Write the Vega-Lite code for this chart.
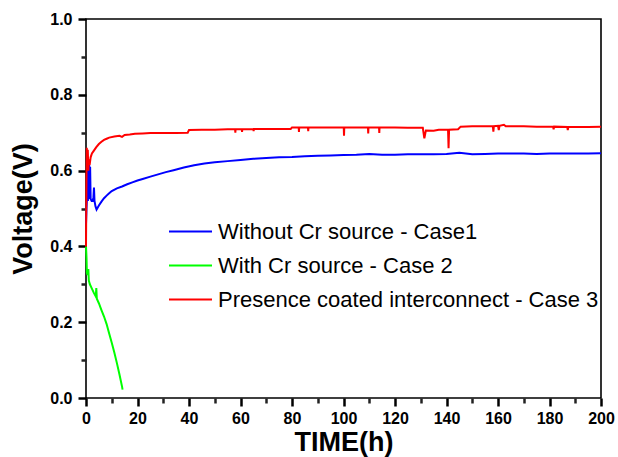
{
  "$schema": "https://vega.github.io/schema/vega-lite/v6.json",
  "width": 515,
  "height": 379,
  "autosize": {"type": "none"},
  "padding": {"left": 86, "top": 19, "right": 17, "bottom": 59},
  "background": "white",
  "config": {
    "view": {"stroke": "black", "strokeWidth": 1.6},
    "font": "Liberation Sans",
    "axis": {
      "grid": false, "domain": false, "zindex": 2,
      "labelFont": "Liberation Sans", "labelFontWeight": "bold", "labelFontSize": 16, "labelColor": "black", "labelFlush": false,
      "titleFont": "Liberation Sans", "titleFontWeight": "bold", "titleFontSize": 27, "titleColor": "black"
    }
  },
  "data": {"values": [
    {"s":"c1","t":0,"v":0.46},{"s":"c1","t":0.2,"v":0.5},{"s":"c1","t":0.4,"v":0.53},{"s":"c1","t":0.6,"v":0.62},{"s":"c1","t":0.75,"v":0.52},{"s":"c1","t":0.95,"v":0.6},{"s":"c1","t":1.1,"v":0.53},{"s":"c1","t":1.25,"v":0.615},{"s":"c1","t":1.4,"v":0.525},{"s":"c1","t":1.6,"v":0.61},{"s":"c1","t":1.8,"v":0.525},{"s":"c1","t":2.2,"v":0.52},{"s":"c1","t":2.6,"v":0.52},{"s":"c1","t":2.9,"v":0.53},{"s":"c1","t":3.1,"v":0.555},{"s":"c1","t":3.3,"v":0.52},{"s":"c1","t":3.7,"v":0.505},{"s":"c1","t":4.1,"v":0.497},{"s":"c1","t":5,"v":0.508},{"s":"c1","t":6,"v":0.518},{"s":"c1","t":7,"v":0.527},{"s":"c1","t":8,"v":0.534},{"s":"c1","t":9,"v":0.54},{"s":"c1","t":10,"v":0.546},{"s":"c1","t":12,"v":0.553},{"s":"c1","t":14,"v":0.558},{"s":"c1","t":16,"v":0.564},{"s":"c1","t":18,"v":0.569},{"s":"c1","t":20,"v":0.574},{"s":"c1","t":22,"v":0.578},{"s":"c1","t":25,"v":0.584},{"s":"c1","t":28,"v":0.59},{"s":"c1","t":31,"v":0.596},{"s":"c1","t":34,"v":0.601},{"s":"c1","t":38,"v":0.608},{"s":"c1","t":42,"v":0.614},{"s":"c1","t":46,"v":0.619},{"s":"c1","t":50,"v":0.622},{"s":"c1","t":55,"v":0.625},{"s":"c1","t":60,"v":0.628},{"s":"c1","t":65,"v":0.631},{"s":"c1","t":70,"v":0.633},{"s":"c1","t":75,"v":0.635},{"s":"c1","t":80,"v":0.636},{"s":"c1","t":85,"v":0.638},{"s":"c1","t":90,"v":0.639},{"s":"c1","t":95,"v":0.64},{"s":"c1","t":100,"v":0.641},{"s":"c1","t":105,"v":0.642},{"s":"c1","t":110,"v":0.644},{"s":"c1","t":115,"v":0.642},{"s":"c1","t":120,"v":0.642},{"s":"c1","t":125,"v":0.643},{"s":"c1","t":130,"v":0.643},{"s":"c1","t":135,"v":0.643},{"s":"c1","t":140,"v":0.644},{"s":"c1","t":145,"v":0.647},{"s":"c1","t":150,"v":0.643},{"s":"c1","t":155,"v":0.644},{"s":"c1","t":160,"v":0.645},{"s":"c1","t":165,"v":0.645},{"s":"c1","t":170,"v":0.645},{"s":"c1","t":175,"v":0.644},{"s":"c1","t":180,"v":0.645},{"s":"c1","t":185,"v":0.645},{"s":"c1","t":190,"v":0.645},{"s":"c1","t":195,"v":0.645},{"s":"c1","t":200,"v":0.646},
    {"s":"c2","t":0,"v":0.4},{"s":"c2","t":0.2,"v":0.37},{"s":"c2","t":0.35,"v":0.33},{"s":"c2","t":0.6,"v":0.325},{"s":"c2","t":0.9,"v":0.34},{"s":"c2","t":1.1,"v":0.31},{"s":"c2","t":1.5,"v":0.3},{"s":"c2","t":2.2,"v":0.29},{"s":"c2","t":3,"v":0.278},{"s":"c2","t":3.8,"v":0.268},{"s":"c2","t":4,"v":0.29},{"s":"c2","t":4.2,"v":0.262},{"s":"c2","t":5,"v":0.25},{"s":"c2","t":6,"v":0.232},{"s":"c2","t":7,"v":0.215},{"s":"c2","t":8,"v":0.195},{"s":"c2","t":9,"v":0.17},{"s":"c2","t":10,"v":0.146},{"s":"c2","t":11,"v":0.12},{"s":"c2","t":12,"v":0.092},{"s":"c2","t":13,"v":0.062},{"s":"c2","t":14,"v":0.03},{"s":"c2","t":14.2,"v":0.022},
    {"s":"c3","t":0,"v":0.4},{"s":"c3","t":0.15,"v":0.55},{"s":"c3","t":0.3,"v":0.66},{"s":"c3","t":0.5,"v":0.62},{"s":"c3","t":0.7,"v":0.655},{"s":"c3","t":0.9,"v":0.6},{"s":"c3","t":1.1,"v":0.63},{"s":"c3","t":1.4,"v":0.615},{"s":"c3","t":1.8,"v":0.635},{"s":"c3","t":2.3,"v":0.645},{"s":"c3","t":3,"v":0.652},{"s":"c3","t":4,"v":0.662},{"s":"c3","t":5,"v":0.67},{"s":"c3","t":6,"v":0.676},{"s":"c3","t":7,"v":0.681},{"s":"c3","t":8,"v":0.684},{"s":"c3","t":9,"v":0.687},{"s":"c3","t":11,"v":0.69},{"s":"c3","t":13,"v":0.692},{"s":"c3","t":14,"v":0.689},{"s":"c3","t":15,"v":0.694},{"s":"c3","t":17,"v":0.695},{"s":"c3","t":19,"v":0.697},{"s":"c3","t":22,"v":0.698},{"s":"c3","t":25,"v":0.699},{"s":"c3","t":30,"v":0.699},{"s":"c3","t":35,"v":0.699},{"s":"c3","t":39.5,"v":0.7},{"s":"c3","t":40,"v":0.707},{"s":"c3","t":45,"v":0.708},{"s":"c3","t":50,"v":0.708},{"s":"c3","t":55,"v":0.709},{"s":"c3","t":57.9,"v":0.709},{"s":"c3","t":58,"v":0.7},{"s":"c3","t":58.1,"v":0.709},{"s":"c3","t":60.5,"v":0.709},{"s":"c3","t":60.6,"v":0.702},{"s":"c3","t":60.7,"v":0.709},{"s":"c3","t":65,"v":0.71},{"s":"c3","t":65.1,"v":0.704},{"s":"c3","t":65.2,"v":0.71},{"s":"c3","t":70,"v":0.71},{"s":"c3","t":75,"v":0.71},{"s":"c3","t":79.5,"v":0.71},{"s":"c3","t":80,"v":0.714},{"s":"c3","t":82.6,"v":0.714},{"s":"c3","t":82.7,"v":0.702},{"s":"c3","t":82.8,"v":0.714},{"s":"c3","t":86.2,"v":0.714},{"s":"c3","t":86.3,"v":0.704},{"s":"c3","t":86.4,"v":0.714},{"s":"c3","t":90,"v":0.714},{"s":"c3","t":95,"v":0.714},{"s":"c3","t":100.1,"v":0.714},{"s":"c3","t":100.2,"v":0.692},{"s":"c3","t":100.3,"v":0.714},{"s":"c3","t":105,"v":0.714},{"s":"c3","t":109.5,"v":0.714},{"s":"c3","t":109.6,"v":0.698},{"s":"c3","t":109.7,"v":0.714},{"s":"c3","t":113.8,"v":0.714},{"s":"c3","t":113.9,"v":0.699},{"s":"c3","t":114,"v":0.714},{"s":"c3","t":120,"v":0.714},{"s":"c3","t":125,"v":0.713},{"s":"c3","t":130.8,"v":0.713},{"s":"c3","t":131.4,"v":0.685},{"s":"c3","t":132,"v":0.706},{"s":"c3","t":135,"v":0.705},{"s":"c3","t":137,"v":0.708},{"s":"c3","t":140.6,"v":0.708},{"s":"c3","t":140.8,"v":0.659},{"s":"c3","t":141,"v":0.708},{"s":"c3","t":144.5,"v":0.709},{"s":"c3","t":145.5,"v":0.716},{"s":"c3","t":150,"v":0.717},{"s":"c3","t":155,"v":0.717},{"s":"c3","t":158,"v":0.717},{"s":"c3","t":158.2,"v":0.703},{"s":"c3","t":158.4,"v":0.717},{"s":"c3","t":160,"v":0.718},{"s":"c3","t":160.3,"v":0.707},{"s":"c3","t":160.6,"v":0.718},{"s":"c3","t":162.3,"v":0.721},{"s":"c3","t":163,"v":0.717},{"s":"c3","t":170,"v":0.717},{"s":"c3","t":175,"v":0.716},{"s":"c3","t":181.4,"v":0.716},{"s":"c3","t":181.6,"v":0.709},{"s":"c3","t":181.8,"v":0.716},{"s":"c3","t":186.9,"v":0.715},{"s":"c3","t":187.1,"v":0.707},{"s":"c3","t":187.3,"v":0.715},{"s":"c3","t":190,"v":0.715},{"s":"c3","t":195,"v":0.715},{"s":"c3","t":200,"v":0.716}
  ]},
  "mark": {"type": "line", "strokeWidth": 2},
  "encoding": {
    "x": {"field": "t", "type": "quantitative", "scale": {"domain": [0, 200], "nice": false},
      "axis": {"orient": "bottom", "values": [0,10,20,30,40,50,60,70,80,90,100,110,120,130,140,150,160,170,180,190,200],
        "labelExpr": "datum.value % 20 === 0 ? datum.label : ''",
        "ticks": true, "tickWidth": 2.5, "offset": 0,
        "tickColor": {"condition": {"test": "datum.value % 20 === 0", "value": "black"}, "value": "#222222"},
        "tickSize": {"condition": {"test": "datum.value % 20 === 0", "value": 8}, "value": 5},
        "labelPadding": 4, "title": "TIME(h)", "titlePadding": 3}},
    "y": {"field": "v", "type": "quantitative", "scale": {"domain": [0, 1], "nice": false},
      "axis": {"orient": "left", "values": [0,0.1,0.2,0.3,0.4,0.5,0.6,0.7,0.8,0.9,1.0], "format": ".1f",
        "labelExpr": "round(datum.value*10) % 2 === 0 ? datum.label : ''",
        "ticks": true, "tickWidth": 2.5, "offset": 0,
        "tickColor": {"condition": {"test": "round(datum.value*10) % 2 === 0", "value": "black"}, "value": "#222222"},
        "tickSize": {"condition": {"test": "round(datum.value*10) % 2 === 0", "value": 8}, "value": 5},
        "labelPadding": 6, "title": "Voltage(V)", "titlePadding": 12}},
    "color": {"field": "s", "type": "nominal",
      "scale": {"domain": ["c1","c2","c3"], "range": ["#0000ff","#00ff00","#ff0000"]},
      "legend": {"orient": "none", "legendX": 82, "legendY": 190, "title": null, "padding": 0,
        "symbolType": "stroke", "symbolSize": 1849, "symbolStrokeWidth": 2,
        "labelFont": "Liberation Sans", "labelFontSize": 22, "labelColor": "black", "labelOffset": 5, "labelLimit": 600,
        "rowPadding": -10,
        "labelExpr": "datum.label == 'c1' ? 'Without Cr source - Case1' : datum.label == 'c2' ? 'With Cr source - Case 2' : 'Presence coated interconnect - Case 3'"}}
  }
}
